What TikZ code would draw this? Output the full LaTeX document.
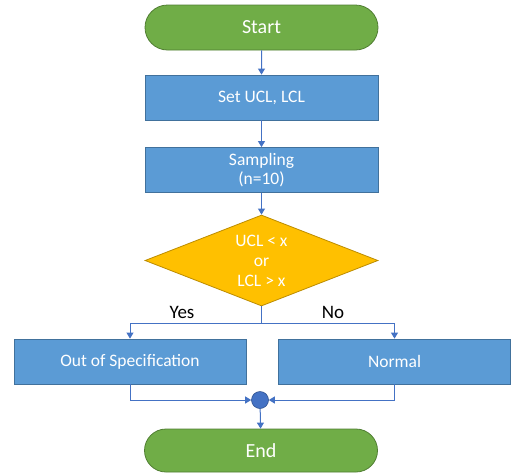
\documentclass[tikz,border=0pt]{standalone}
\usepackage{fontspec}
\setmainfont{Carlito}
\usetikzlibrary{shapes.geometric,shapes.misc,arrows.meta}
\definecolor{termfill}{HTML}{70AD47}
\definecolor{termdraw}{HTML}{507E32}
\definecolor{boxfill}{HTML}{5B9BD5}
\definecolor{boxdraw}{HTML}{41719C}
\definecolor{decfill}{HTML}{FFC000}
\definecolor{decdraw}{HTML}{BC8C00}
\definecolor{connc}{HTML}{4472C4}
\definecolor{juncdraw}{HTML}{2F528F}
\tikzset{
  term/.style={rounded rectangle, fill=termfill, draw=termdraw, line width=0.8pt,
    minimum width=233pt, minimum height=45pt, inner sep=0pt, text=white,
    font=\fontsize{20}{22}\selectfont},
  procbox/.style={rectangle, fill=boxfill, draw=boxdraw, line width=0.8pt,
    minimum width=233pt, minimum height=45pt, inner sep=0pt, text=white,
    align=center, font=\fontsize{17.5}{19.5}\selectfont},
  decbox/.style={diamond, fill=decfill, draw=decdraw, line width=0.8pt,
    minimum width=233pt, minimum height=91pt, inner sep=0pt, shape aspect=2.56,
    text=white, align=center, font=\fontsize{17.5}{20}\selectfont},
  junc/.style={circle, fill=connc, draw=juncdraw, line width=0.6pt,
    minimum size=17pt, inner sep=0pt},
  conn/.style={draw=connc, line width=1pt, -{Triangle[width=7pt,length=6pt]}},
  plainconn/.style={draw=connc, line width=1pt},
  lbl/.style={text=black, font=\fontsize{19}{21}\selectfont, inner sep=0pt}
}
\begin{document}
\begin{tikzpicture}[x=1pt,y=1pt]
\useasboundingbox (0,0) rectangle (511,-472);
\node[term] (start) at (261.5,-27.5) {Start};
\node[procbox] (set) at (261.5,-97.5) {Set UCL, LCL};
\node[procbox] (samp) at (261.5,-170) {Sampling\\(n=10)};
\node[decbox] (dec) at (261.5,-260.5) {UCL < x\\or\\LCL > x};
\node[procbox, minimum width=232pt] (oos) at (130,-361.5) {Out of Specification};
\node[procbox, minimum width=232pt] (norm) at (394.5,-361.5) {Normal};
\node[junc] (jn) at (260,-400) {};
\node[term, minimum height=43pt] (end) at (261,-450.5) {End};
\coordinate (split) at (261.5,-323.5);
\node[lbl] (yes) at (182,-312) {Yes};
\node[lbl] (no) at (333,-312) {No};
\draw[conn] (start) -- (set);
\draw[conn] (set) -- (samp);
\draw[conn] (samp) -- (dec);
\draw[plainconn] (dec.south) -- (split);
\draw[conn] (split) -| (oos.north);
\draw[conn] (split) -| (norm.north);
\draw[conn] (oos.south) |- (jn.west);
\draw[conn] (norm.south) |- (jn.east);
\draw[conn] (jn) -- (end);
\end{tikzpicture}
\end{document}
